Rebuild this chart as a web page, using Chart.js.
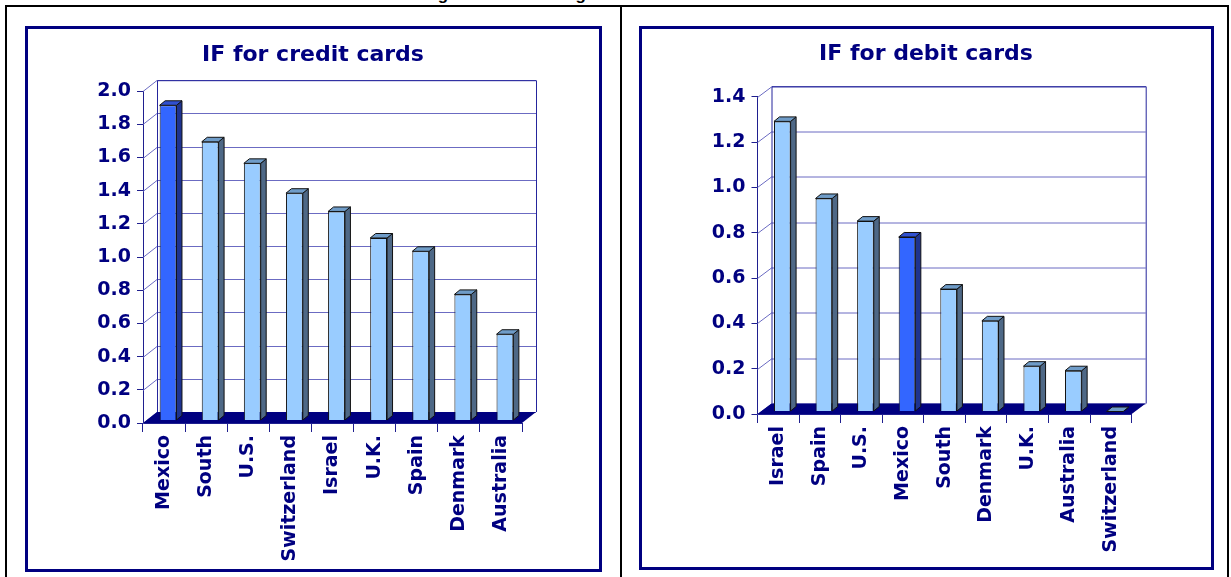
<!DOCTYPE html>
<html lang="en">
<head>
  <meta charset="UTF-8" />
  <title>IF for credit and debit cards</title>
  <script src="https://cdn.jsdelivr.net/npm/chart.js"></script>
  <style>
    body {
      margin: 0;
      background: #fff;
      width: 1231px;
      height: 577px;
      overflow: hidden;
      position: relative;
    }
    .line { position: absolute; background: #000; }
    .fig-title {
      position: absolute;
      left: 0;
      width: 1240px;
      top: -14px;
      text-align: center;
      font: bold 17px "Liberation Sans", Arial, sans-serif;
      line-height: 17px;
      color: #000;
    }
    .panel {
      position: absolute;
      border: 3px solid #000080;
      box-sizing: border-box;
    }
    .box { position: absolute; }
  </style>
</head>
<body>

  <div class="fig-title">Figure 1: Interchange Fees in Selected Countries</div>
  <div class="line" style="left:5px;top:5px;width:1224px;height:2px"></div>
  <div class="line" style="left:5px;top:5px;width:2px;height:580px"></div>
  <div class="line" style="left:620px;top:5px;width:2px;height:580px"></div>
  <div class="line" style="left:1227px;top:5px;width:2px;height:580px"></div>

  <div class="panel" style="left:25px;top:26px;width:577px;height:546px"></div>
  <div class="panel" style="left:639px;top:26px;width:575px;height:544px"></div>

  <div class="box" style="left:28px;top:29px;width:570px;height:540px"><canvas id="creditChart"></canvas></div>
  <div class="box" style="left:642px;top:29px;width:568px;height:538px"><canvas id="debitChart"></canvas></div>

  <script>
    // Data
    const creditLabels = ['Mexico', 'South', 'U.S.', 'Switzerland', 'Israel', 'U.K.', 'Spain', 'Denmark', 'Australia'];
    const creditValues = [1.90, 1.68, 1.55, 1.37, 1.26, 1.10, 1.02, 0.76, 0.52];
    const debitLabels = ['Israel', 'Spain', 'U.S.', 'Mexico', 'South', 'Denmark', 'U.K.', 'Australia', 'Switzerland'];
    const debitValues = [1.28, 0.94, 0.84, 0.77, 0.54, 0.40, 0.20, 0.18, 0.00];
    const creditMax = 2.0;
    const debitMax = 1.4;
    const tickStep = 0.2;
    const highlight = 'Mexico';

    const NAVY = '#000080';
    const AXIS = '#1f1f8f';
    const FONT = '"DejaVu Sans", Verdana, sans-serif';

    function poly(ctx, pts, fill) {
      ctx.beginPath();
      ctx.moveTo(pts[0][0], pts[0][1]);
      for (let i = 1; i < pts.length; i++) ctx.lineTo(pts[i][0], pts[i][1]);
      ctx.closePath();
      ctx.fillStyle = fill;
      ctx.fill();
      ctx.stroke();
    }

    // fake 3D look: back wall, floor, bar tops and sides
    const box3d = {
      id: 'box3d',
      beforeDatasetsDraw(chart, args, o) {
        const { ctx, chartArea: a, scales: { y } } = chart;
        ctx.save();
        ctx.lineWidth = 1;
        ctx.strokeStyle = '#6b6bc2';
        y.ticks.forEach(t => {
          const py = Math.round(y.getPixelForValue(t.value)) + 0.5;
          ctx.beginPath();
          ctx.moveTo(a.left, py);
          ctx.lineTo(a.left + o.dx, py + o.dy);
          ctx.lineTo(a.right + o.dx, py + o.dy);
          ctx.stroke();
        });
        ctx.strokeStyle = '#25259c';
        ctx.beginPath();
        ctx.moveTo(a.left + o.dx + 0.5, a.bottom + o.dy);
        ctx.lineTo(a.left + o.dx + 0.5, a.top + o.dy + 0.5);
        ctx.lineTo(a.right + o.dx + 0.5, a.top + o.dy + 0.5);
        ctx.lineTo(a.right + o.dx + 0.5, a.bottom + o.dy);
        ctx.stroke();
        ctx.fillStyle = NAVY;
        ctx.beginPath();
        ctx.moveTo(a.left, a.bottom);
        ctx.lineTo(a.right, a.bottom);
        ctx.lineTo(a.right + o.dx, a.bottom + o.dy);
        ctx.lineTo(a.left + o.dx, a.bottom + o.dy);
        ctx.closePath();
        ctx.fill();
        ctx.restore();
        ctx.save();
        ctx.translate(o.bx, o.by);
      },
      afterDatasetsDraw(chart, args, o) {
        const ctx = chart.ctx;
        ctx.lineWidth = 1;
        ctx.strokeStyle = '#111';
        chart.getDatasetMeta(0).data.forEach((bar, i) => {
          const { x, y, base, width } = bar.getProps(['x', 'y', 'base', 'width'], true);
          const l = x - width / 2, r = x + width / 2;
          const dark = chart.data.labels[i] === highlight;
          poly(ctx, [[r, y], [r + o.sx, y + o.sy], [r + o.sx, base + o.sy], [r, base]], dark ? '#1e3390' : '#4e6886');
          poly(ctx, [[l, y], [r, y], [r + o.sx, y + o.sy], [l + o.sx, y + o.sy]], dark ? '#3050d0' : '#6f9cc8');
        });
        ctx.restore();
      }
    };

    function makeChart(id, title, labels, values, max, g) {
      return new Chart(document.getElementById(id), {
        type: 'bar',
        data: {
          labels: labels,
          datasets: [{
            data: values,
            backgroundColor: labels.map(l => l === highlight ? '#3366ff' : '#99ccff'),
            borderColor: '#111',
            borderWidth: 1,
            barPercentage: 0.4,
            categoryPercentage: 1
          }]
        },
        plugins: [box3d],
        options: {
          responsive: true,
          maintainAspectRatio: false,
          animation: false,
          layout: { padding: 0 },
          plugins: {
            legend: { display: false },
            tooltip: { enabled: false },
            title: {
              display: true,
              text: title,
              color: NAVY,
              font: { family: FONT, size: 22, weight: 'bold' },
              padding: { top: g.titleTop, bottom: g.titleBottom }
            },
            box3d: { dx: 14, dy: g.dy, bx: 4, by: -2.5, sx: 5.5, sy: -4.5 }
          },
          scales: {
            x: {
              grid: { drawOnChartArea: false, tickLength: 9, color: AXIS, offset: true },
              border: { display: true, color: AXIS },
              ticks: {
                color: NAVY,
                font: { family: FONT, size: 19, weight: 'bold' },
                minRotation: 90,
                maxRotation: 90,
                autoSkip: false,
                padding: 3
              },
              afterFit(s) { s.height = g.xHeight; }
            },
            y: {
              min: 0,
              max: max,
              grid: { drawOnChartArea: false, tickLength: 6, color: AXIS },
              border: { display: true, color: AXIS },
              ticks: {
                stepSize: tickStep,
                color: NAVY,
                font: { family: FONT, size: 19, weight: 'bold' },
                padding: 6,
                callback: v => Number(v).toFixed(1)
              },
              afterFit(s) { s.width = g.yWidth; }
            },
            // empty right-hand box so the title stays centred on the whole panel
            pad: {
              type: 'linear',
              position: 'right',
              grid: { display: false },
              border: { display: false },
              ticks: { display: false },
              afterFit(s) { s.width = g.padRight; }
            }
          }
        }
      });
    }

    makeChart('creditChart', 'IF for credit cards', creditLabels, creditValues, creditMax,
      { padRight: 76, titleTop: 13.5, titleBottom: 22.3, xHeight: 146, yWidth: 115, dy: -11 });
    makeChart('debitChart', 'IF for debit cards', debitLabels, debitValues, debitMax,
      { padRight: 78.3, titleTop: 12, titleBottom: 29.3, xHeight: 153, yWidth: 115.5, dy: -10.5 });
  </script>
</body>
</html>
